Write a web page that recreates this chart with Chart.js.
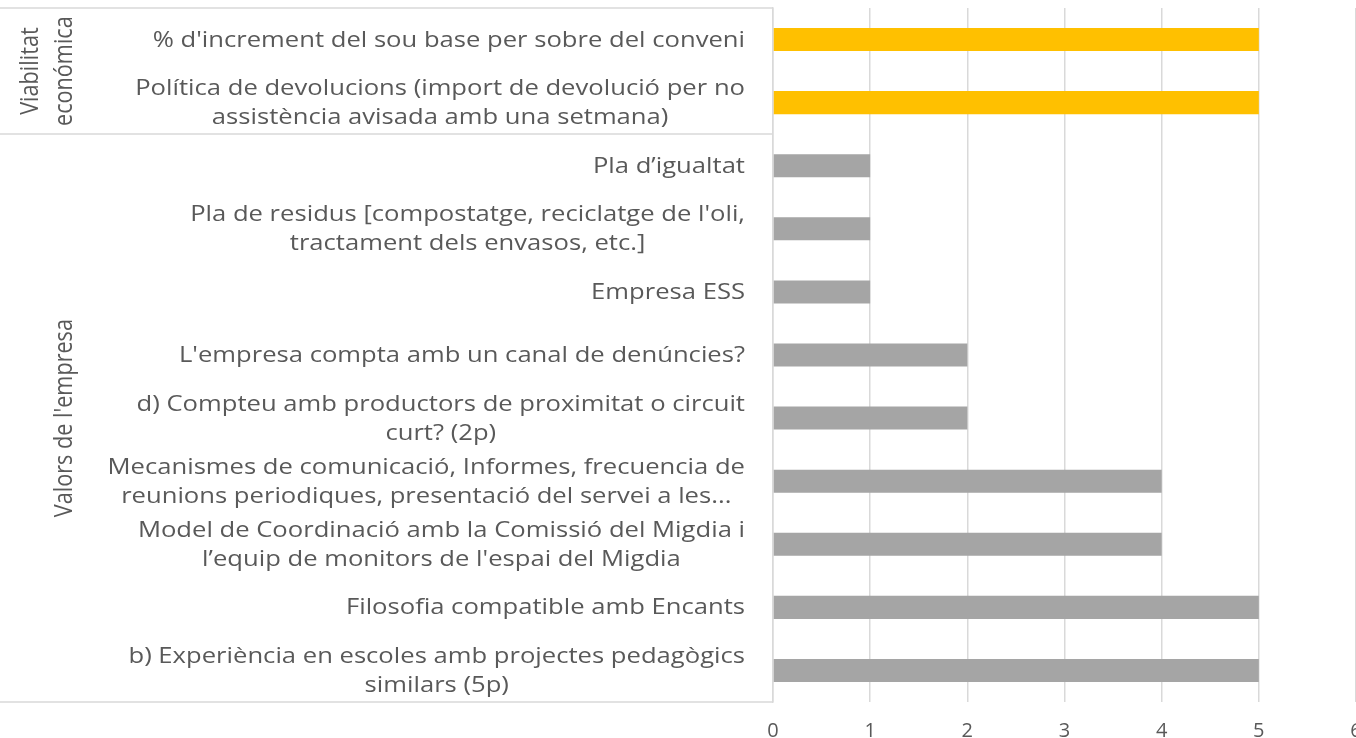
<!DOCTYPE html>
<html>
<head>
<meta charset="utf-8">
<script src="https://cdn.jsdelivr.net/npm/chart.js@4"></script>
<style>
  html, body { margin: 0; padding: 0; background: #fff; overflow: hidden; }
  #wrap { width: 1400px; height: 738px; }
</style>
</head>
<body>
<div id="wrap"><canvas id="chart" width="1400" height="738"></canvas></div>
<script>
// --- Data ---
const categories = [
    "% d'increment del sou base per sobre del conveni",
    ["Política de devolucions (import de devolució per no", "assistència avisada amb una setmana)"],
    "Pla d’igualtat",
    ["Pla de residus [compostatge, reciclatge de l'oli,", "tractament dels envasos, etc.]"],
    "Empresa ESS",
    "L'empresa compta amb un canal de denúncies?",
    ["d) Compteu amb productors de proximitat o circuit", "curt? (2p)"],
    ["Mecanismes de comunicació, Informes, frecuencia de", "reunions periodiques, presentació del servei a les..."],
    ["Model de Coordinació amb la Comissió del Migdia i", "l’equip de monitors de l'espai del Migdia"],
    "Filosofia compatible amb Encants",
    ["b) Experiència en escoles amb projectes pedagògics", "similars (5p)"]
];
const values = [5, 5, 1, 1, 1, 2, 2, 4, 4, 5, 5];
// category groups: label lines, first index, last index
const groups = [
    { label: ['Viabilitat', 'económica'], from: 0, to: 1, color: '#FFC000' },
    { label: ["Valors de l'empresa"], from: 2, to: 10, color: '#A5A5A5' }
];
const xTicks = [0, 1, 2, 3, 4, 5, 6];

const TEXT = '#595959';
const LINE = '#d9d9d9';
const FONT = "'Open Sans', sans-serif";
const STRETCH = 1.22; // the reference text is drawn wider than it is tall

const barColors = values.map((v, i) => groups.find(g => i >= g.from && i <= g.to).color);

// y tick labels: block right-aligned to the axis, lines centred inside the block
const labelPlugin = {
    id: 'categoryLabels',
    afterLayout(chart) {
        const s = chart.scales.y;
        if (s._custom) return;
        s.drawLabels = function () {
            const ctx = this.ctx;
            const ax = this.right - this.options.ticks.padding;
            const lh = 29;
            ctx.save();
            ctx.fillStyle = TEXT;
            ctx.font = '21px ' + FONT;
            ctx.textAlign = 'center';
            ctx.textBaseline = 'alphabetic';
            this.getLabels().forEach((lab, i) => {
                const lines = [].concat(lab);
                const yc = this.getPixelForTick(i);
                const w = Math.max(...lines.map(l => ctx.measureText(l).width)) * STRETCH;
                const cx = ax - w / 2;
                lines.forEach((ln, k) => {
                    const ly = yc + (k - (lines.length - 1) / 2) * lh + 7;
                    ctx.save();
                    ctx.translate(cx, ly);
                    ctx.scale(STRETCH, 1);
                    ctx.fillText(ln, 0, 0);
                    ctx.restore();
                });
            });
            ctx.restore();
        };
        s._custom = true;
    }
};

// draws the group labels and the separator lines on the left
const groupPlugin = {
    id: 'groupLabels',
    afterDraw(chart) {
        const ctx = chart.ctx;
        const y = chart.scales.y;
        const left = chart.chartArea.left;
        ctx.save();
        ctx.strokeStyle = LINE;
        ctx.lineWidth = 1.5;
        const edges = [];
        groups.forEach(g => {
            edges.push(y.getPixelForValue(g.from - 0.5));
            edges.push(y.getPixelForValue(g.to + 0.5));
        });
        [...new Set(edges.map(e => Math.round(e)))].forEach(e => {
            ctx.beginPath();
            ctx.moveTo(0, e);
            ctx.lineTo(left, e);
            ctx.stroke();
        });
        ctx.fillStyle = TEXT;
        ctx.font = '21px ' + FONT;
        ctx.textAlign = 'center';
        ctx.textBaseline = 'alphabetic';
        groups.forEach(g => {
            const cy = (y.getPixelForValue(g.from - 0.5) + y.getPixelForValue(g.to + 0.5)) / 2;
            const n = g.label.length;
            g.label.forEach((line, k) => {
                const bx = 72 - (n - 1 - k) * 34;
                ctx.save();
                ctx.translate(bx, cy);
                ctx.rotate(-Math.PI / 2);
                ctx.scale(1.03, STRETCH);
                ctx.fillText(line, 0, 0);
                ctx.restore();
            });
        });
        ctx.restore();
    }
};

new Chart(document.getElementById('chart'), {
    type: 'bar',
    data: {
        labels: categories,
        datasets: [{
            data: values,
            backgroundColor: barColors,
            categoryPercentage: 1,
            barPercentage: 0.365
        }]
    },
    options: {
        indexAxis: 'y',
        responsive: false,
        animation: false,
        layout: { padding: { top: 8, right: 44, left: 0, bottom: 0 } },
        plugins: { legend: { display: false }, tooltip: { enabled: false } },
        scales: {
            x: {
                min: 0,
                max: 6,
                afterBuildTicks: s => { s.ticks = xTicks.map(v => ({ value: v })); },
                afterFit: s => { s.height = 36; s.paddingLeft = 0; },
                grid: { color: LINE, lineWidth: 1.5, drawTicks: false },
                border: { display: false },
                ticks: { color: TEXT, font: { family: FONT, size: 20 }, padding: 17 }
            },
            y: {
                afterFit: s => { s.width = 773; s.paddingTop = 0; s.paddingBottom = 0; },
                grid: { display: false, drawTicks: false },
                border: { display: true, color: LINE, width: 1.5 },
                ticks: {
                    color: TEXT,
                    autoSkip: false,
                    padding: 28,
                    font: { family: FONT, size: 21, lineHeight: 1.38 }
                }
            }
        }
    },
    plugins: [labelPlugin, groupPlugin]
});
</script>
</body>
</html>
